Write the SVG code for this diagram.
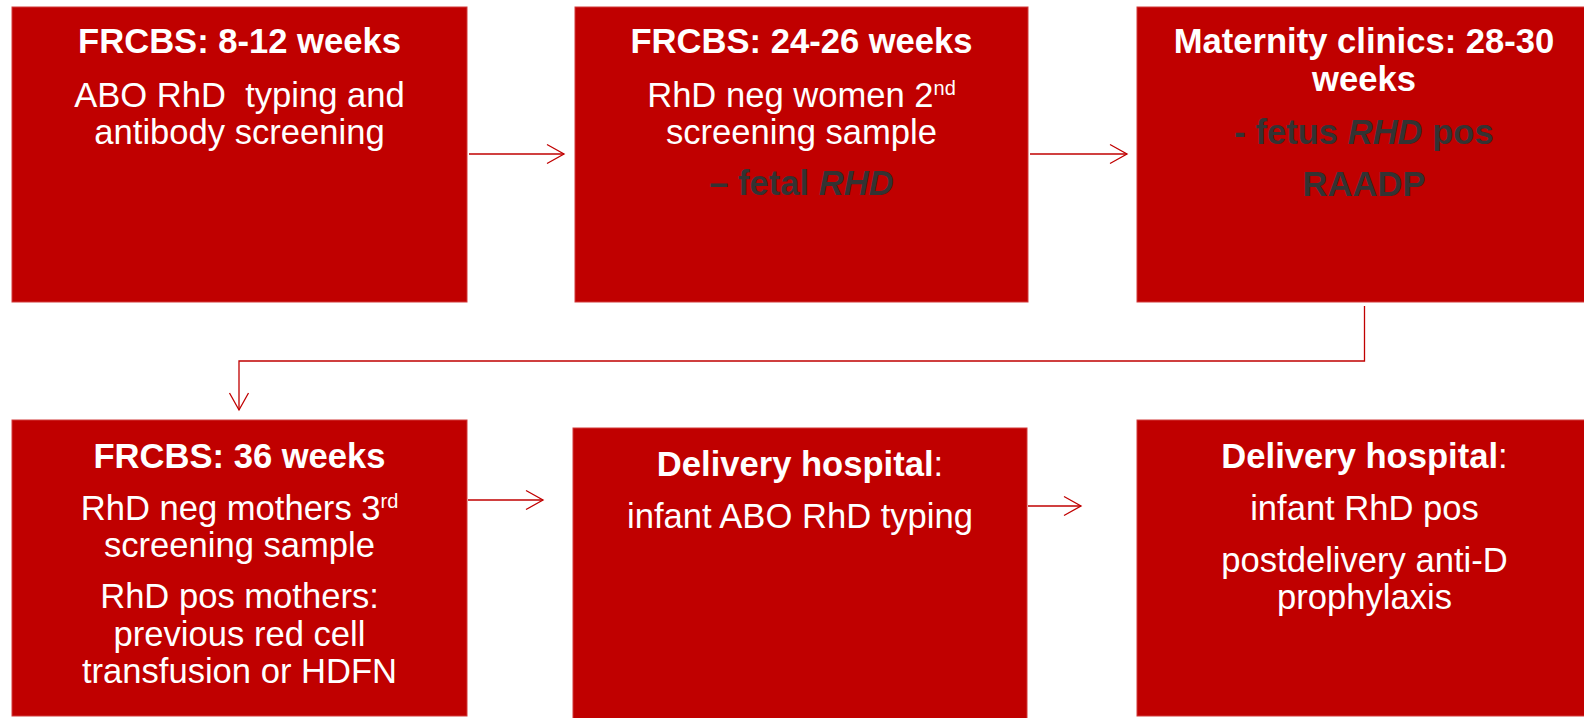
<svg xmlns="http://www.w3.org/2000/svg" width="1584" height="718" viewBox="0 0 1584 718">
<style>
.box{fill:#C00000;stroke:#D23A3A;stroke-width:1}
.t{font-family:"Liberation Sans",Arial,sans-serif;font-size:34.6px;fill:#FFFFFF;text-anchor:middle}
.b{font-weight:bold}
.d{fill:#333333;font-weight:bold}
.sup{font-size:20px}
.conn{fill:none;stroke:#C00000;stroke-width:1.3}
</style>
<defs>
<marker id="arr" viewBox="0 0 20 22" refX="18" refY="11" markerWidth="20" markerHeight="22" markerUnits="userSpaceOnUse" orient="auto">
<path d="M1,1.5 L18,11 L1,20.5" fill="none" stroke="#C00000" stroke-width="1.3"/>
</marker>
</defs>
<g id="connectors">
<line class="conn" x1="469" y1="154" x2="564" y2="154" marker-end="url(#arr)"/>
<line class="conn" x1="1030" y1="154" x2="1127" y2="154" marker-end="url(#arr)"/>
<polyline class="conn" points="1364.5,306 1364.5,361 239,361 239,410" marker-end="url(#arr)"/>
<line class="conn" x1="468" y1="500" x2="543" y2="500" marker-end="url(#arr)"/>
<line class="conn" x1="1028" y1="506" x2="1081" y2="506" marker-end="url(#arr)"/>
</g>
<g id="node1">
<rect class="box" x="12" y="7" width="455" height="295"/>
<text class="t b" x="239.5" y="53">FRCBS: 8-12 weeks</text>
<text class="t" x="239.5" y="106.5" xml:space="preserve">ABO RhD  typing and</text>
<text class="t" x="239.5" y="143.5">antibody screening</text>
</g>
<g id="node2">
<rect class="box" x="575" y="7" width="453" height="295"/>
<text class="t b" x="801.5" y="53">FRCBS: 24-26 weeks</text>
<text class="t" x="801.5" y="106.5">RhD neg women 2<tspan class="sup" dy="-12">nd</tspan></text>
<text class="t" x="801.5" y="143.5">screening sample</text>
<text class="t d" x="801.5" y="195">– fetal <tspan font-style="italic">RHD</tspan></text>
</g>
<g id="node3">
<rect class="box" x="1137" y="7" width="454" height="295"/>
<text class="t b" x="1364" y="53">Maternity clinics: 28-30</text>
<text class="t b" x="1364" y="90.5">weeks</text>
<text class="t d" x="1364" y="143.5">- fetus <tspan font-style="italic">RHD</tspan> pos</text>
<text class="t d" x="1364" y="195.5">RAADP</text>
</g>
<g id="node4">
<rect class="box" x="12" y="420" width="455" height="296"/>
<text class="t b" x="239.5" y="467.5">FRCBS: 36 weeks</text>
<text class="t" x="239.5" y="520">RhD neg mothers 3<tspan class="sup" dy="-12">rd</tspan></text>
<text class="t" x="239.5" y="557">screening sample</text>
<text class="t" x="239.5" y="608">RhD pos mothers:</text>
<text class="t" x="239.5" y="645.5">previous red cell</text>
<text class="t" x="239.5" y="683">transfusion or HDFN</text>
</g>
<g id="node5">
<rect class="box" x="573" y="428" width="454" height="295"/>
<text class="t" x="800" y="476"><tspan class="b">Delivery hospital</tspan>:</text>
<text class="t" x="800" y="527.5">infant ABO RhD typing</text>
</g>
<g id="node6">
<rect class="box" x="1137" y="420" width="454" height="296"/>
<text class="t" x="1364.5" y="468"><tspan class="b">Delivery hospital</tspan>:</text>
<text class="t" x="1364.5" y="519.5">infant RhD pos</text>
<text class="t" x="1364.5" y="571.5">postdelivery anti-D</text>
<text class="t" x="1364.5" y="608.5">prophylaxis</text>
</g>
</svg>
